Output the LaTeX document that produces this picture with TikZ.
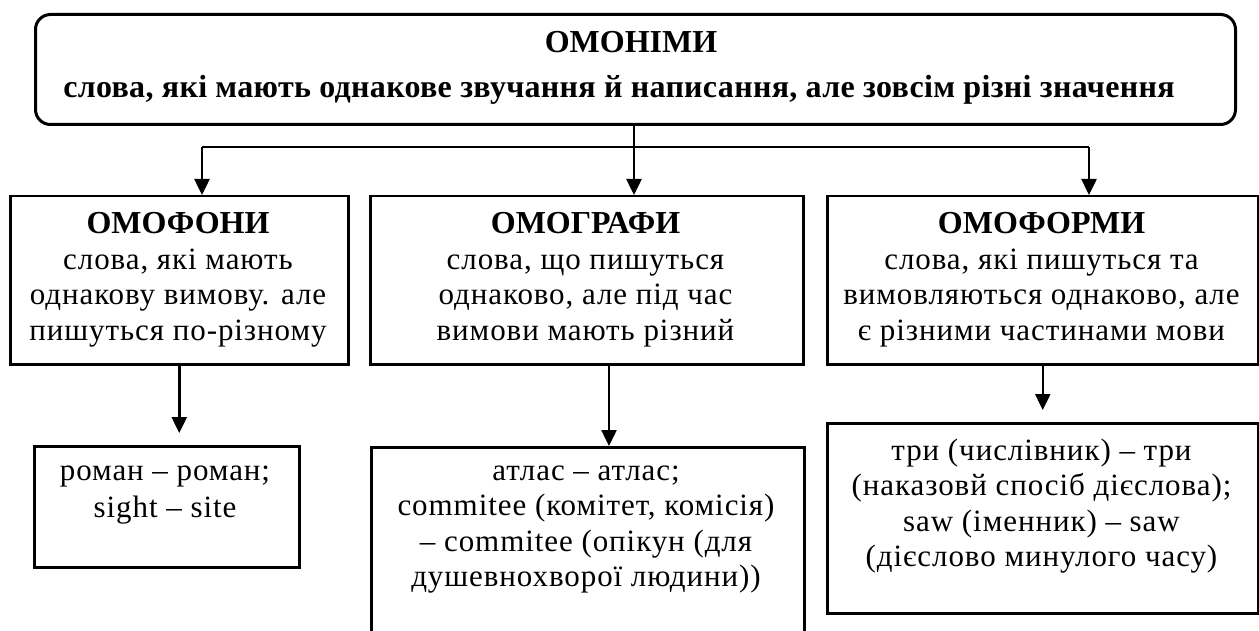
\documentclass[tikz,border=0pt]{standalone}
\usepackage{fontspec}
\setmainfont{Liberation Serif}
\newfontfamily\bodyfont[LetterSpace=3]{Liberation Serif}
\newfontfamily\subfont[LetterSpace=1]{Liberation Serif}
\usetikzlibrary{arrows.meta}
\begin{document}
\begin{tikzpicture}[x=1pt,y=-1pt,
  frame/.style={draw, line width=2.5pt, inner sep=0pt, anchor=north west},
  txt/.style={inner sep=0pt, align=center, anchor=north},
  body/.style={font=\bodyfont\fontsize{31}{35.5}\selectfont},
  arr/.style={line width=2.5pt, -{Triangle[width=15pt,length=16pt]}},
  ln/.style={line width=2.5pt}]
\useasboundingbox (0,0) rectangle (1259,631);
% boxes
\node[frame, rounded corners=15pt, line width=3pt, minimum width=1200pt, minimum height=110pt] (top) at (34,13) {};
\node[frame, minimum width=338pt, minimum height=168pt] (b1) at (9,195) {};
\node[frame, minimum width=433pt, minimum height=168pt] (b2) at (369,195) {};
\node[frame, minimum width=431pt, minimum height=168pt] (b3) at (826,195) {};
\node[frame, minimum width=265pt, minimum height=121pt] (a1) at (33,445) {};
\node[frame, minimum width=433pt, minimum height=220pt] (a2) at (370,446) {};
\node[frame, minimum width=431pt, minimum height=190pt] (a3) at (826,422) {};
% texts
\node[txt, font=\subfont\bfseries\fontsize{32}{45}\selectfont] (ttop) at (619,20.5)
  {{\rmfamily\bfseries\fontsize{32}{45}\selectfont\strut\hspace*{24pt}ОМОНІМИ}\\
   слова, які мають однакове звучання й написання, але зовсім різні значення};
\node[txt, body] (tb1) at (178,208.5)
  {{\rmfamily\bfseries\fontsize{32}{35.5}\selectfont\strut ОМОФОНИ}\\
   слова, які мають\\ однакову вимову. але\\ пишуться по-різному};
\node[txt, body] (tb2) at (585.5,208.5)
  {{\rmfamily\bfseries\fontsize{32}{35.5}\selectfont\strut ОМОГРАФИ}\\
   слова, що пишуться\\ однаково, але під час\\ вимови мають різний};
\node[txt, body] (tb3) at (1041.5,208.5)
  {{\rmfamily\bfseries\fontsize{32}{35.5}\selectfont\strut ОМОФОРМИ}\\
   слова, які пишуться та\\ вимовляються однаково, але\\ є різними частинами мови};
\node[txt, font=\bodyfont\fontsize{31}{37}\selectfont] (ta1) at (165,454)
  {\strut роман – роман;\\ sight – site};
\node[txt, body] (ta2) at (586,455)
  {\strut атлас – атлас;\\ commitee (комітет, комісія)\\ – commitee (опікун (для\\ душевнохворої людини))};
\node[txt, body] (ta3) at (1041.5,435)
  {\strut три (числівник) – три\\ (наказовй спосіб дієслова);\\ saw (іменник) – saw\\ (дієслово минулого часу)};
% connectors
\coordinate (jm) at (634,147);
\coordinate (jl) at (202,147);
\coordinate (jr) at (1089,147);
\draw[ln] (top.south -| jm) -- (jm);
\draw[ln] (jl) -- (jr);
\draw[arr] (jl) -- (jl |- b1.north);
\draw[arr] (jm) -- (jm |- b2.north);
\draw[arr] (jr) -- (jr |- b3.north);
\coordinate (k1) at (b1.south);
\coordinate (k2) at (609,363);
\coordinate (k3) at (b3.south);
\draw[arr] (k1) -- ([yshift=12pt]k1 |- a1.north);
\draw[arr] (k2) -- (k2 |- a2.north);
\draw[arr] (k3) -- ([yshift=12pt]k3 |- a3.north);
\end{tikzpicture}
\end{document}
